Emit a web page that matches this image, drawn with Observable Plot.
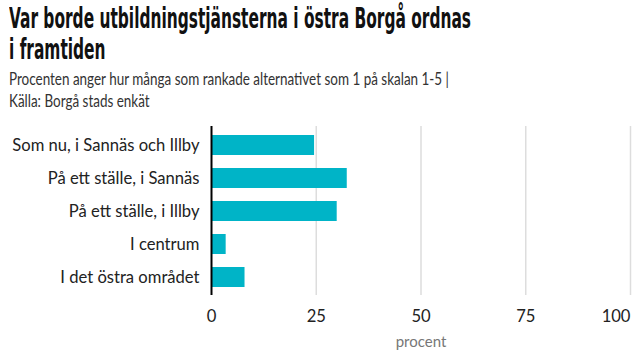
<!DOCTYPE html>
<html>
<head>
<meta charset="utf-8">
<script src="https://cdn.jsdelivr.net/npm/d3@7"></script>
<script src="https://cdn.jsdelivr.net/npm/@observablehq/plot@0.6"></script>
<style>
  html, body { margin: 0; padding: 0; background: #fff; }
  body { width: 640px; height: 360px; overflow: hidden; position: relative; }
  .line { display: block; white-space: nowrap; transform-origin: 0 0; width: max-content; }
  #title { position: absolute; left: 9px; top: 3px; font-family: "DejaVu Sans Condensed", "DejaVu Sans", sans-serif; font-weight: 700; font-size: 27.5px; line-height: 31px; color: #111; }
  #subtitle { position: absolute; left: 9px; top: 68px; font-family: Lato, sans-serif; font-size: 17.5px; line-height: 22px; color: #333; }
  #chart { position: absolute; left: 0; top: 115px; }
</style>
</head>
<body>
<div id="title"><span class="line" data-w="462">Var borde utbildningstjänsterna i östra Borgå ordnas</span><span class="line" data-s="1">i framtiden</span></div>
<div id="subtitle"><span class="line" data-w="440">Procenten anger hur många som rankade alternativet som 1 på skalan 1-5 |</span><span class="line" data-s="1">Källa: Borgå stads enkät</span></div>
<div id="chart"></div>
<script>
const categories = ["Som nu, i Sannäs och Illby", "På ett ställe, i Sannäs", "På ett ställe, i Illby", "I centrum", "I det östra området"];
const values = [24.6, 32.4, 30.0, 3.5, 8.0];
const xTicks = [0, 25, 50, 75, 100];
const xLabel = "procent";

// fit header lines to the reference's condensed widths
for (const block of document.querySelectorAll("#title, #subtitle")) {
  const lines = block.querySelectorAll(".line");
  const first = lines[0];
  const s = +first.dataset.w / first.getBoundingClientRect().width;
  lines.forEach(l => l.style.transform = `scaleX(${s})`);
}

const data = categories.map((c, i) => ({category: c, value: values[i]}));

const chart = Plot.plot({
  width: 640,
  height: 245,
  marginLeft: 211,
  marginRight: 10,
  marginTop: 11,
  marginBottom: 65,
  style: {fontFamily: "Lato, sans-serif", fontSize: "16px", color: "#222", background: "transparent"},
  x: {domain: [0, 100], ticks: xTicks},
  y: {domain: categories, paddingInner: 0.4, paddingOuter: 0.2},
  marks: [
    Plot.gridX(xTicks.slice(1), {stroke: "#ddd", strokeOpacity: 1, strokeWidth: 1.5}),
    Plot.barX(data, {x: "value", y: "category", fill: "#00b4c7"}),
    Plot.ruleX([0], {stroke: "#000", strokeWidth: 2}),
    Plot.axisY({tickSize: 0, tickPadding: 12, label: null, fontSize: 16.6}),
    Plot.axisX(xTicks.slice(0, -1), {tickSize: 0, tickPadding: 15, label: null, fontSize: 16.6}),
    Plot.axisX(xTicks.slice(-1), {tickSize: 0, tickPadding: 15, label: null, fontSize: 16.6, textAnchor: "end"}),
    Plot.text([xLabel], {frameAnchor: "bottom", x: 50, dy: 51, fill: "#777", fontSize: 15})
  ]
});
document.getElementById("chart").appendChild(chart);
</script>
</body>
</html>
